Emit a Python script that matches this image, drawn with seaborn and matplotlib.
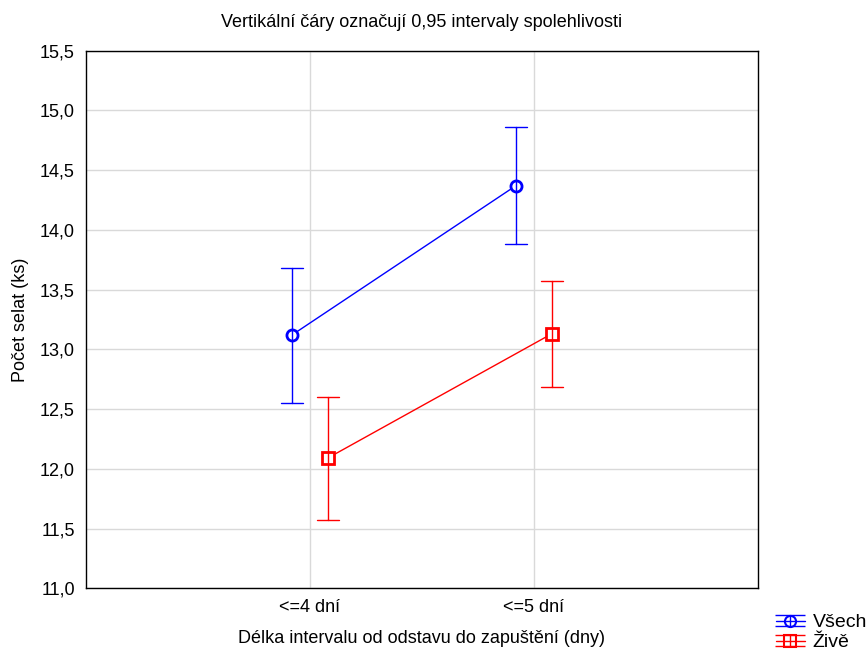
import pandas as pd
import matplotlib.pyplot as plt
import seaborn as sns
from matplotlib.lines import Line2D
from matplotlib.collections import LineCollection
from matplotlib.container import ErrorbarContainer
from matplotlib.legend_handler import HandlerErrorbar
from matplotlib.ticker import FuncFormatter, MultipleLocator

# data
kategorie = ["<=4 dní", "<=5 dní"]
skupiny = ["Všech", "Živě"]
prumer_vsech = [13.12, 14.37]
dolni_vsech = [12.55, 13.88]
horni_vsech = [13.68, 14.86]
prumer_zive = [12.09, 13.13]
dolni_zive = [11.57, 12.685]
horni_zive = [12.60, 13.57]

# long format: lower / mean / upper as three rows, median = mean, full range = CI
radky = []
for skup, prum, dol, hor in [("Všech", prumer_vsech, dolni_vsech, horni_vsech),
                             ("Živě", prumer_zive, dolni_zive, horni_zive)]:
    for i, kat in enumerate(kategorie):
        for v in (dol[i], prum[i], hor[i]):
            radky.append({"kat": kat, "skupina": skup, "hodnota": v})
df = pd.DataFrame(radky)

sns.set_style("white")
plt.rcParams["font.family"] = ["Liberation Sans", "DejaVu Sans"]
plt.rcParams["text.color"] = "black"
plt.rcParams["axes.labelcolor"] = "black"

fig = plt.figure(figsize=(8.68, 6.5), dpi=100)
ax = fig.add_axes([0.099, 0.095, 0.774, 0.827])

barvy = {"Všech": "#0000ff", "Živě": "#ff0000"}
sns.pointplot(data=df, x="kat", y="hodnota", hue="skupina", hue_order=skupiny,
              estimator="median", errorbar=("pi", 100), palette=barvy,
              markers=["o", "s"], dodge=0.16, capsize=0.1, linewidth=1,
              markersize=8, markerfacecolor="white", markeredgewidth=2,
              err_kws={"linewidth": 1}, ax=ax, legend=False)

ax.set_xlim(-1, 2)
ax.set_ylim(11.0, 15.5)
ax.yaxis.set_major_locator(MultipleLocator(0.5))
ax.yaxis.set_major_formatter(FuncFormatter(lambda v, p: f"{v:.1f}".replace(".", ",")))
ax.grid(True, color="#d9d9d9", linewidth=1)
ax.set_axisbelow(True)
for s in ax.spines.values():
    s.set_color("black")
    s.set_linewidth(1)
ax.tick_params(axis="both", labelsize=13, length=0, pad=8, colors="black")

ax.set_xlabel("Délka intervalu od odstavu do zapuštění (dny)", fontsize=13, labelpad=10)
ax.set_ylabel("Počet selat (ks)", fontsize=13, labelpad=8)
ax.set_title("Vertikální čáry označují 0,95 intervaly spolehlivosti", fontsize=13, pad=17)

# legend handles look like error bars (line, hollow marker, vertical bar with caps)
handles = []
for s, m in zip(skupiny, ["o", "s"]):
    ln = Line2D([], [], color=barvy[s], marker=m, markerfacecolor="none",
                markeredgewidth=1.5, markersize=8, linewidth=1)
    cap = Line2D([], [], color=barvy[s], marker="_", markersize=21, markeredgewidth=1,
                 linestyle="none")
    bar = LineCollection([], colors=barvy[s], linewidths=1)
    handles.append(ErrorbarContainer((ln, (cap, cap), (bar,)), has_xerr=False, has_yerr=True))
fig.legend(handles, skupiny, loc="lower left", bbox_to_anchor=(0.88, -0.02),
           frameon=False, fontsize=14, handlelength=1.5, handletextpad=0.4,
           labelspacing=0.12, borderaxespad=0.2,
           handler_map={ErrorbarContainer: HandlerErrorbar(xerr_size=0.3)})

plt.savefig("out.png", dpi=100)
